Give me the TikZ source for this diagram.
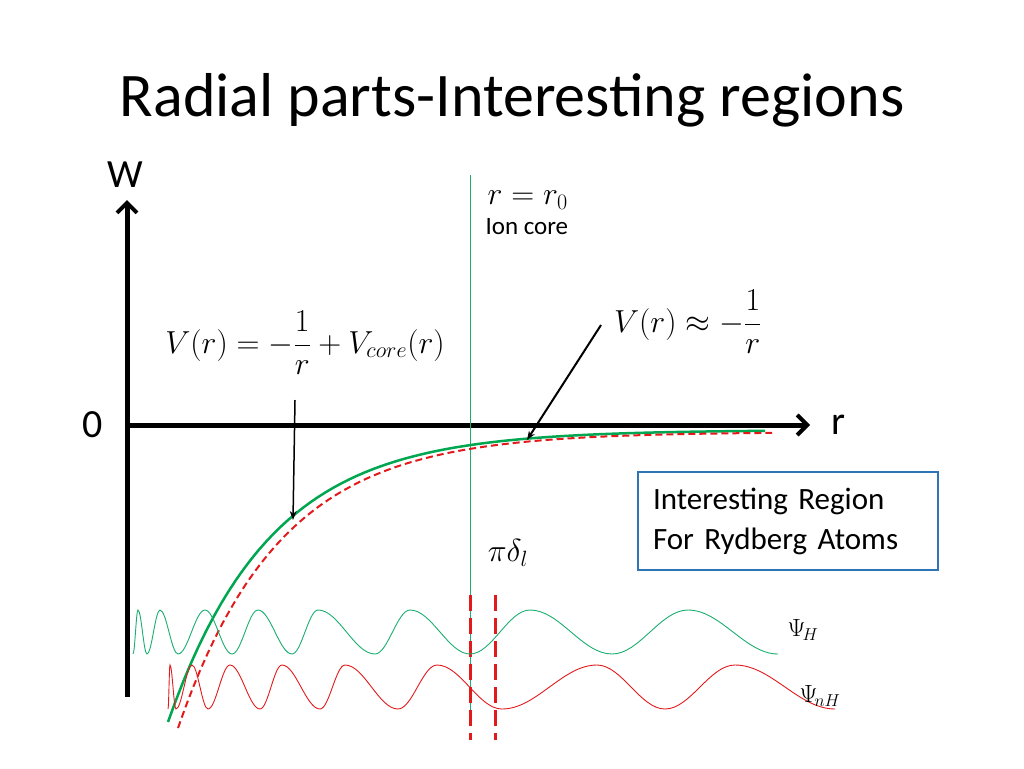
\documentclass[tikz,border=0pt]{standalone}
\usepackage{fontspec}
\setmainfont{Carlito}
\usepackage{tikz}
\usepackage{xcolor}
\usetikzlibrary{arrows.meta}
\definecolor{vgreen}{HTML}{00a650}
\definecolor{vthin}{HTML}{1aae6f}
\definecolor{vred}{HTML}{e31a1c}
\definecolor{vblue}{HTML}{2e75b6}
\begin{document}
\begin{tikzpicture}[x=1pt, y=-1pt,
    axis/.style={line width=5pt, -{Straight Barb[length=10pt, width=20pt, line width=4pt]}},
    formula/.style={font=\fontsize{26}{28}\selectfont, scale=1.28},
    label/.style={font=\fontsize{40}{44}\selectfont}]
		\useasboundingbox (0,0) rectangle (1024,768);
		\node (title) at (512,100) {\fontsize{62}{68}\selectfont Radial parts-Interesting regions};
		% axes
		\coordinate (O) at (127,425);
		\coordinate (Wtop) at (127,200);
		\coordinate (Rend) at (810,425);
		\draw[axis] (127,697) -- (Wtop);
		\draw[axis] (O) -- (Rend);
		\node[label] (W) at (125,175) {W};
		\node[label] (zero) at (93,425) {0};
		\node[label] (r) at (838,425) {r};
		% ion core line
		\draw[color=vthin, line width=0.8pt] (470,175) -- (470,722);
		\node[formula, anchor=west] (rzero) at (483,200) {$r=r_0$};
		\node[anchor=west, font=\fontsize{25}{28}\selectfont] (ion) at (482,227) {Ion core};
		% potentials
		\draw[color=vgreen, line width=2.5pt, domain=168:765, samples=80, variable=\x]
			plot ({\x},{430+292*exp(-(\x-168)/102)});
		\draw[color=vred, line width=2pt, dash pattern=on 7pt off 4pt, domain=178:772, samples=80, variable=\x]
			plot ({\x},{432+296*exp(-(\x-178)/102)});
		\node[formula] (Vfull) at (305,343) {$V(r)=-\displaystyle\frac{1}{r}+V_{core}(r)$};
		\node[formula] (Vcoul) at (688,322) {$V(r)\approx-\displaystyle\frac{1}{r}$};
		\coordinate (tipA) at (293,520);
		\coordinate (tipB) at (527,440);
		\draw[line width=1.5pt, -{Stealth[length=9pt]}] (295,400) -- (tipA);
		\draw[line width=2pt, -{Stealth[length=9pt]}] (601,325) -- (tipB);
		% phase shift
		\draw[color=vred, line width=3pt, dash pattern=on 16pt off 7pt] (470,595) -- (470,740);
		\draw[color=vred, line width=3pt, dash pattern=on 16pt off 7pt] (495,595) -- (495,740);
		\node[formula] (phase) at (508,553) {$\pi\delta_l$};
		% box
		\node[draw=vblue, line width=1.5pt, minimum width=300pt, minimum height=98pt,
			align=left, text width=270pt, font=\fontsize{31}{40}\selectfont] (region) at (788,521)
			{Interesting Region\\For Rydberg Atoms};
		% wave functions
		\draw[color=vthin, line width=0.9pt] (133,654)
			foreach \xa/\xb/\yb in {133/138/610,138/147/654,147/160/610,160/178/654,178/205/610,205/232/654,232/258/610,258/292/654,292/318/610,318/375/654,375/410/610,410/470/654,470/530/610,530/612/654,612/688/610,688/778/654}
			{ cos ({(\xa+\xb)/2},632) sin (\xb,\yb) };
		\draw[color=vred, line width=0.9pt] (168,709)
			foreach \xa/\xb/\yb in {168/170/665,170/176/709,176/192/665,192/208/709,208/230/665,230/260/709,260/282/665,282/320/709,320/345/665,345/398/709,398/437/665,437/502/709,502/597/665,597/665/709,665/735/665,735/835/709}
			{ cos ({(\xa+\xb)/2},687) sin (\xb,\yb) };
		\node[font=\fontsize{26}{28}\selectfont] (psiH) at (803,630) {$\Psi_{\!\scriptstyle H}$};
		\node[font=\fontsize{26}{28}\selectfont] (psinH) at (820,696) {$\Psi_{\!\scriptstyle nH}$};
	\end{tikzpicture}
\end{document}
